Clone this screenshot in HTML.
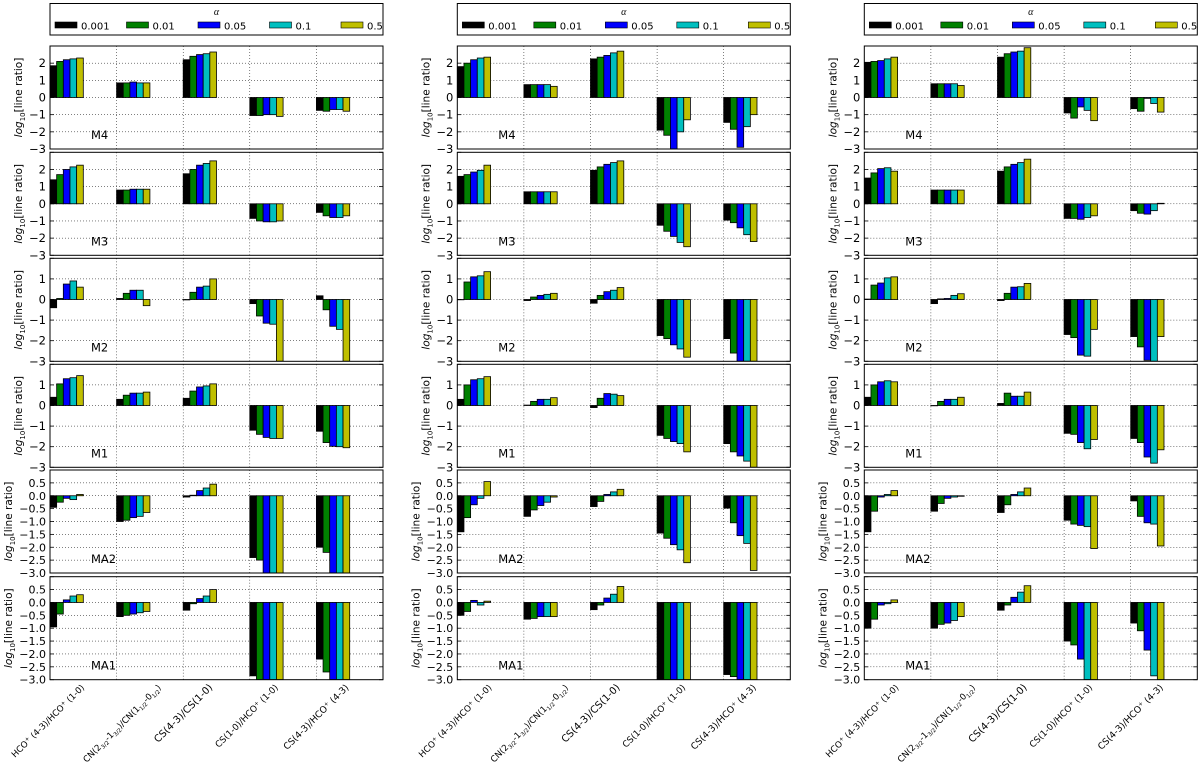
<!DOCTYPE html>
<html><head><meta charset="utf-8">
<style>
html,body{margin:0;padding:0;background:#fff;}
svg{display:block;font-family:"DejaVu Sans","Liberation Sans",sans-serif;}
</style></head>
<body>
<svg id="fig" width="1200" height="762" viewBox="0 0 1200 762" xmlns="http://www.w3.org/2000/svg"></svg>
<script>
// ---- data ----
const categories = ["HCO$+$(4-3)/HCO$+$(1-0)","CN2","CS(4-3)/CS(1-0)","CS(1-0)/HCO$+$(1-0)","CS(4-3)/HCO$+$(4-3)"];
const alphaLabels = ["0.001","0.01","0.05","0.1","0.5"];
const modelNames = ["M4","M3","M2","M1","MA2","MA1"];
const yTicksM = [-3,-2,-1,0,1,2,3];
const yTicksMA = [-3.0,-2.5,-2.0,-1.5,-1.0,-0.5,0.0,0.5,1.0];
const yRanges = [[-3,3],[-3,3],[-3,2],[-3,2],[-3,1],[-3,1]];

// column 1
const col1_M4 = [[1.85,2.1,2.2,2.25,2.3],[0.85,0.85,0.9,0.85,0.85],[2.2,2.4,2.5,2.55,2.65],[-1.05,-1.05,-1.0,-1.0,-1.1],[-0.75,-0.8,-0.7,-0.7,-0.8]];
const col1_M3 = [[1.4,1.7,2.0,2.15,2.25],[0.8,0.8,0.85,0.85,0.85],[1.75,2.0,2.25,2.35,2.5],[-0.85,-1.0,-1.05,-1.05,-1.0],[-0.5,-0.7,-0.8,-0.8,-0.7]];
const col1_M2 = [[-0.4,0.05,0.75,0.9,0.6],[0.05,0.3,0.45,0.45,-0.3],[-0.02,0.35,0.6,0.65,1.0],[-0.2,-0.8,-1.15,-1.2,-3],[0.18,-0.5,-1.3,-1.45,-3]];
const col1_M1 = [[0.4,1.05,1.3,1.35,1.45],[0.3,0.5,0.6,0.6,0.65],[0.35,0.7,0.9,0.95,1.05],[-1.2,-1.4,-1.55,-1.6,-1.6],[-1.25,-1.8,-1.98,-2.0,-2.05]];
const col1_MA2 = [[-0.45,-0.25,-0.1,-0.15,0.05],[-1.0,-0.95,-0.85,-0.8,-0.65],[-0.05,0.02,0.2,0.3,0.45],[-2.4,-2.5,-3,-3,-3],[-2.0,-2.2,-3,-3,-3]];
const col1_MA1 = [[-0.95,-0.45,0.1,0.25,0.3],[-0.55,-0.5,-0.45,-0.4,-0.35],[-0.3,-0.05,0.15,0.25,0.5],[-2.85,-3,-3,-3,-3],[-2.2,-2.7,-3,-3,-3]];
// column 2
const col2_M4 = [[1.8,2.0,2.2,2.3,2.35],[0.75,0.75,0.75,0.75,0.65],[2.25,2.35,2.45,2.6,2.7],[-1.9,-2.2,-3,-2.0,-1.3],[-1.45,-1.85,-2.9,-1.7,-1.0]];
const col2_M3 = [[1.6,1.7,1.85,1.95,2.25],[0.7,0.7,0.7,0.7,0.7],[1.95,2.15,2.3,2.4,2.5],[-1.25,-1.6,-1.9,-2.25,-2.5],[-0.95,-1.1,-1.4,-1.8,-2.2]];
const col2_M2 = [[0.0,0.85,1.1,1.15,1.35],[-0.05,0.12,0.2,0.25,0.3],[-0.18,0.2,0.38,0.45,0.58],[-1.75,-1.9,-2.2,-2.4,-2.8],[-1.9,-2.6,-3,-3,-3]];
const col2_M1 = [[0.3,1.0,1.25,1.3,1.4],[0.02,0.2,0.3,0.3,0.38],[-0.1,0.35,0.58,0.55,0.48],[-1.45,-1.6,-1.75,-1.85,-2.25],[-1.85,-2.25,-2.45,-2.7,-3]];
const col2_MA2 = [[-1.4,-0.85,-0.35,-0.1,0.55],[-0.8,-0.55,-0.38,-0.25,-0.05],[-0.42,-0.22,0.05,0.15,0.25],[-1.45,-1.65,-1.9,-2.1,-2.6],[-0.48,-1.05,-1.55,-1.85,-2.9]];
const col2_MA1 = [[-0.5,-0.35,0.08,-0.1,0.05],[-0.65,-0.62,-0.55,-0.55,-0.55],[-0.28,-0.1,0.17,0.32,0.62],[-3,-3,-3,-3,-3],[-2.8,-2.88,-3,-3,-3]];
// column 3
const col3_M4 = [[2.05,2.1,2.15,2.25,2.35],[0.8,0.8,0.8,0.8,0.7],[2.35,2.55,2.65,2.7,2.9],[-0.9,-1.2,-0.55,-0.75,-1.35],[-0.65,-0.8,-0.05,-0.35,-0.85]];
const col3_M3 = [[1.5,1.8,2.05,2.1,1.9],[0.8,0.8,0.8,0.8,0.8],[1.9,2.15,2.3,2.4,2.6],[-0.85,-0.85,-0.9,-0.8,-0.7],[-0.4,-0.55,-0.6,-0.4,0.03]];
const col3_M2 = [[0.02,0.7,0.8,1.05,1.1],[-0.2,0.03,0.05,0.2,0.28],[-0.05,0.3,0.6,0.62,0.78],[-1.7,-1.85,-2.7,-2.75,-1.45],[-1.8,-2.3,-2.95,-3,-1.8]];
const col3_M1 = [[0.4,1.0,1.15,1.2,1.15],[0.0,0.2,0.3,0.3,0.4],[0.1,0.6,0.45,0.45,0.65],[-1.35,-1.4,-1.8,-2.1,-1.65],[-1.6,-1.8,-2.5,-2.8,-2.15]];
const col3_MA2 = [[-1.4,-0.6,-0.05,0.05,0.2],[-0.6,-0.3,-0.1,-0.05,-0.02],[-0.65,-0.35,0.05,0.15,0.3],[-0.95,-1.1,-1.15,-1.2,-2.05],[-0.2,-0.8,-1.05,-1.1,-1.95]];
const col3_MA1 = [[-1.0,-0.65,-0.1,-0.05,0.1],[-1.0,-0.85,-0.8,-0.7,-0.55],[-0.3,-0.1,0.2,0.4,0.65],[-1.5,-1.65,-2.2,-3,-3],[-0.8,-1.1,-1.85,-2.85,-3]];

const columnsData = [
  [col1_M4,col1_M3,col1_M2,col1_M1,col1_MA2,col1_MA1],
  [col2_M4,col2_M3,col2_M2,col2_M1,col2_MA2,col2_MA1],
  [col3_M4,col3_M3,col3_M2,col3_M1,col3_MA2,col3_MA1]
];

// ---- layout ----
const colors = ["#000000","#008000","#0000ff","#00bfbf","#bfbf00"];
const colLeft = [50, 457.3, 864.3];
const axW = 333;
const axH = 103;
const rowTop = [46,152.3,258.3,364.3,470,576.7];
const NS = "http://www.w3.org/2000/svg";
const svg = document.getElementById('fig');

function mk(tag, attrs, parent){
  const e = document.createElementNS(NS, tag);
  for (const k in attrs) e.setAttribute(k, attrs[k]);
  (parent||svg).appendChild(e);
  return e;
}
function fmtTick(v, ma){ const s = ma ? Math.abs(v).toFixed(1) : String(Math.abs(v)); return (v<0?"\u2212":"")+s; }

const defs = mk('defs',{});

for (let c=0;c<3;c++){
  const L = colLeft[c];
  const lg = mk('g',{});
  
  
  mk('rect',{x:L,y:3.5,width:axW,height:31.5,fill:'#fff',stroke:'#000','stroke-width':1},lg);
  const lt = mk('text',{x:L+axW/2,y:15,'font-size':10,'text-anchor':'middle','font-family':'"Liberation Serif",serif','font-style':'italic'},lg);
  lt.textContent = "\u03b1";
  
  
  for (let k=0;k<5;k++){
    const ex = L + 5 + k*71.5;
    const en = mk('g',{},lg);
    
    
    mk('rect',{x:ex,y:22,width:22,height:6,fill:colors[k],stroke:'#000','stroke-width':0.6},en);
    const t = mk('text',{x:ex+26,y:29.5,'font-size':10},en);
    t.textContent = alphaLabels[k];
  }

  for (let r=0;r<6;r++){
    const T = rowTop[r];
    const [ymin,ymax] = yRanges[r];
    const ma = r>=4;
    const ys = v => T + (ymax - v)/(ymax - ymin)*axH;
    const gw = axW/5, bw = gw/10;
    const xs = (g,k) => L + g*gw + k*bw;
    const panel = mk('g',{});
    
    
    const cid = 'clip'+c+'_'+r;
    const cp = mk('clipPath',{id:cid},defs);
    mk('rect',{x:L,y:T,width:axW,height:axH},cp);
    mk('rect',{x:L,y:T,width:axW,height:axH,fill:'#fff'},panel);
    const ticks = ma ? yTicksMA : yTicksM;
    ticks.forEach(v=>{
      if (v<ymin||v>ymax) return;
      const y = ys(v);
      if (v>ymin && v<ymax) mk('line',{x1:L,x2:L+axW,y1:y,y2:y,stroke:'#000','stroke-width':0.5,'stroke-dasharray':'1,2'},panel);
      mk('line',{x1:L,x2:L+4,y1:y,y2:y,stroke:'#000','stroke-width':0.8},panel);
      mk('line',{x1:L+axW-4,x2:L+axW,y1:y,y2:y,stroke:'#000','stroke-width':0.8},panel);
      if (v<ymax){
        const tl = mk('text',{x:L-4,y:y+4,'font-size':ma?11:11.5,'text-anchor':'end'},panel);
        tl.textContent = fmtTick(v,ma);
        
        
      }
    });
    for (let g=1;g<5;g++){
      const x = L+g*gw;
      mk('line',{x1:x,x2:x,y1:T,y2:T+axH,stroke:'#000','stroke-width':0.5,'stroke-dasharray':'1,2'},panel);
    }
    const bg = mk('g',{'clip-path':'url(#'+cid+')'},panel);
    const data = columnsData[c][r];
    for (let g=0;g<5;g++){
      for (let k=0;k<5;k++){
        const v = data[g][k];
        const y0 = ys(0), y1 = ys(v);
        const b = mk('rect',{x:xs(g,k),y:Math.min(y0,y1),width:bw,height:Math.max(Math.abs(y1-y0),0.3),fill:colors[k],stroke:'#000','stroke-width':0.8},bg);
        
        
      }
    }
    mk('rect',{x:L,y:T,width:axW,height:axH,fill:'none',stroke:'#000','stroke-width':1},panel);
    const ml = mk('text',{x:L+41,y:T+93,'font-size':11.5},panel);
    ml.textContent = modelNames[r];
    
    
    const yl = mk('text',{transform:'translate('+(L-(ma?38:28))+','+(T+axH/2)+') rotate(-90)','font-size':10.5,'text-anchor':'middle'},panel);
    
    
    yl.innerHTML = '<tspan font-style="italic">log</tspan><tspan font-size="7" dy="3">10</tspan><tspan dy="-3">[line ratio]</tspan>';
  }

  const labHTML = [
    'HCO<tspan font-size="5.5" dy="-3">+</tspan><tspan dy="3"> (4-3)/HCO</tspan><tspan font-size="5.5" dy="-3">+</tspan><tspan dy="3"> (1-0)</tspan>',
    'CN(2<tspan font-size="5.5" dy="2">3/2</tspan><tspan dy="-2">-1</tspan><tspan font-size="5.5" dy="2">3/2</tspan><tspan dy="-2">)/CN(1</tspan><tspan font-size="5.5" dy="2">1/2</tspan><tspan dy="-2">-0</tspan><tspan font-size="5.5" dy="2">1/2</tspan><tspan dy="-2">)</tspan>',
    'CS(4-3)/CS(1-0)',
    'CS(1-0)/HCO<tspan font-size="5.5" dy="-3">+</tspan><tspan dy="3"> (1-0)</tspan>',
    'CS(4-3)/HCO<tspan font-size="5.5" dy="-3">+</tspan><tspan dy="3"> (4-3)</tspan>'
  ];
  const labEnd = [35,45,30,29,33];
  const labLen = [99,106,78,85,88];
  for (let g=0;g<5;g++){
    const x = L + g*axW/5;
    const t = mk('text',{x:0,y:0,'font-size':8.5});
    
    
    t.innerHTML = labHTML[g];
    let w = labLen[g];
    try { w = t.getBBox().width || labLen[g]; } catch(e){}
    const s = labLen[g]/w;
    const ex = x+labEnd[g], ey = 688;
    t.setAttribute('transform','translate('+ex+','+ey+') rotate(-45) scale('+s+') translate('+(-w)+',0)');
  }
}
</script>
</body></html>
